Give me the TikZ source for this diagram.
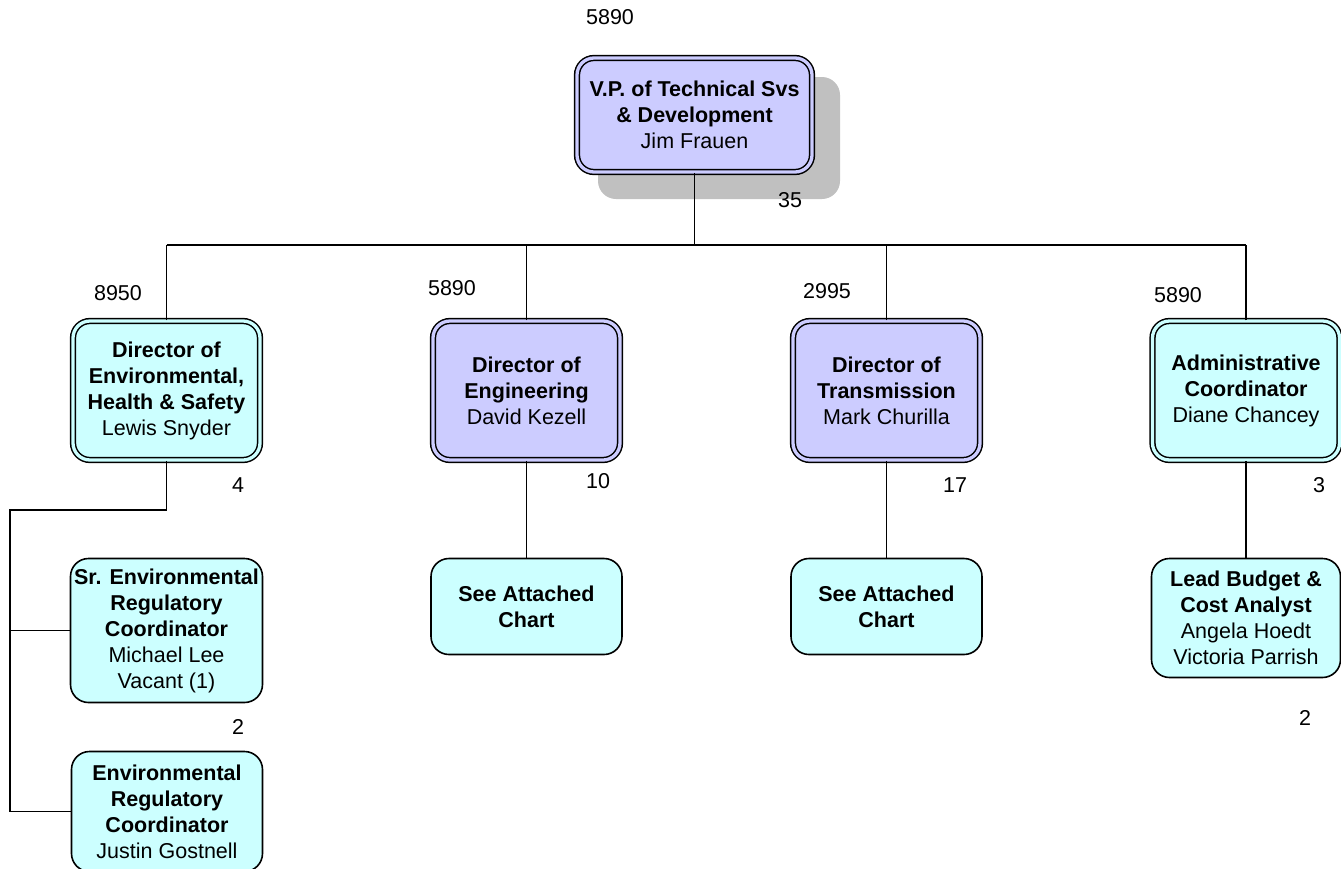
\documentclass[tikz,border=0pt]{standalone}
\usepackage{fontspec}
\setmainfont{Liberation Sans}
\definecolor{lav}{RGB}{204,204,255}
\definecolor{cy}{RGB}{204,255,255}
\definecolor{shad}{RGB}{192,192,192}
\begin{document}
\begin{tikzpicture}[x=1pt,y=-1pt,
  every node/.style={font=\fontsize{21.5}{26}\selectfont},
  base/.style={rectangle, align=center, inner sep=0pt, text=black},
  dbl/.style={base, draw=black, line width=1.5pt, double distance=3.3pt, rounded corners=17pt},
  lavbox/.style={dbl, fill=lav, double=lav},
  cydbl/.style={dbl, fill=cy, double=cy},
  cybox/.style={base, draw=black, line width=1.6pt, fill=cy, rounded corners=18pt},
  num/.style={inner sep=0pt, anchor=center},
  conn/.style={draw=black, line width=1.5pt}]
\useasboundingbox (0,0) rectangle (1341,868);
% shadow of top box
\fill[shad, rounded corners=18pt] (598,77) rectangle (840,199);
% nodes
\node[lavbox, minimum width=235pt, minimum height=114pt] (vp) at (694.5,115)
  {\textbf{V.P. of Technical Svs}\\\textbf{\& Development}\\Jim Frauen};
\node[cydbl, minimum width=187pt, minimum height=139pt] (ehs) at (166.5,390.5)
  {\textbf{Director of}\\\textbf{Environmental,}\\\textbf{Health \& Safety}\\Lewis Snyder};
\node[lavbox, minimum width=187pt, minimum height=139pt] (eng) at (526.5,390.5)
  {\textbf{Director of}\\\textbf{Engineering}\\David Kezell};
\node[lavbox, minimum width=187pt, minimum height=139pt] (trn) at (886.5,390.5)
  {\textbf{Director of}\\\textbf{Transmission}\\Mark Churilla};
\node[cydbl, minimum width=187pt, minimum height=139pt] (adm) at (1246,390.5)
  {\textbf{Administrative}\\\textbf{Coordinator}\\Diane Chancey};
\node[cybox, minimum width=192pt, minimum height=144pt] (sr) at (166.5,630.5)
  {\textbf{Sr. Environmental}\\\textbf{Regulatory}\\\textbf{Coordinator}\\Michael Lee\\Vacant (1)};
\node[cybox, minimum width=191pt, minimum height=120pt] (env) at (167,811.5)
  {\textbf{Environmental}\\\textbf{Regulatory}\\\textbf{Coordinator}\\Justin Gostnell};
\node[cybox, minimum width=191pt, minimum height=96pt] (see1) at (526.5,606.5)
  {\textbf{See Attached}\\\textbf{Chart}};
\node[cybox, minimum width=191pt, minimum height=96pt] (see2) at (886.5,606.5)
  {\textbf{See Attached}\\\textbf{Chart}};
\node[cybox, minimum width=189pt, minimum height=119pt] (lead) at (1246,618)
  {\textbf{Lead Budget \&}\\\textbf{Cost Analyst}\\Angela Hoedt\\Victoria Parrish};
% numbers
\node[num] (n0) at (610,17) {5890};
\node[num] (n1) at (790,200) {35};
\node[num] (n2) at (118,293) {8950};
\node[num] (n3) at (452,288) {5890};
\node[num] (n4) at (827,291) {2995};
\node[num] (n5) at (1178,295) {5890};
\node[num] (n6) at (238,485) {4};
\node[num] (n7) at (598,481) {10};
\node[num] (n8) at (955,485) {17};
\node[num] (n9) at (1319,485) {3};
\node[num] (n10) at (238,727) {2};
\node[num] (n11) at (1305,718) {2};
% connectors
\coordinate (busL) at (166.5,245);
\coordinate (busR) at (1246,245);
\coordinate (j1) at (166.5,510);
\coordinate (j2) at (10,510);
\draw[conn] (busL) -- (busR);
\draw[conn] (vp.south) -- (vp.south |- busL);
\draw[conn] (ehs.north) -- (busL);
\draw[conn] (eng.north) -- (eng.north |- busL);
\draw[conn] (trn.north) -- (trn.north |- busL);
\draw[conn] (adm.north) -- (busR);
\draw[conn] (eng.south) -- (see1.north);
\draw[conn] (trn.south) -- (see2.north);
\draw[conn] (adm.south) -- (lead.north);
\draw[conn] (ehs.south) -- (j1) -- (j2) |- (env.west);
\draw[conn] (j2) |- (sr.west);
\end{tikzpicture}
\end{document}
